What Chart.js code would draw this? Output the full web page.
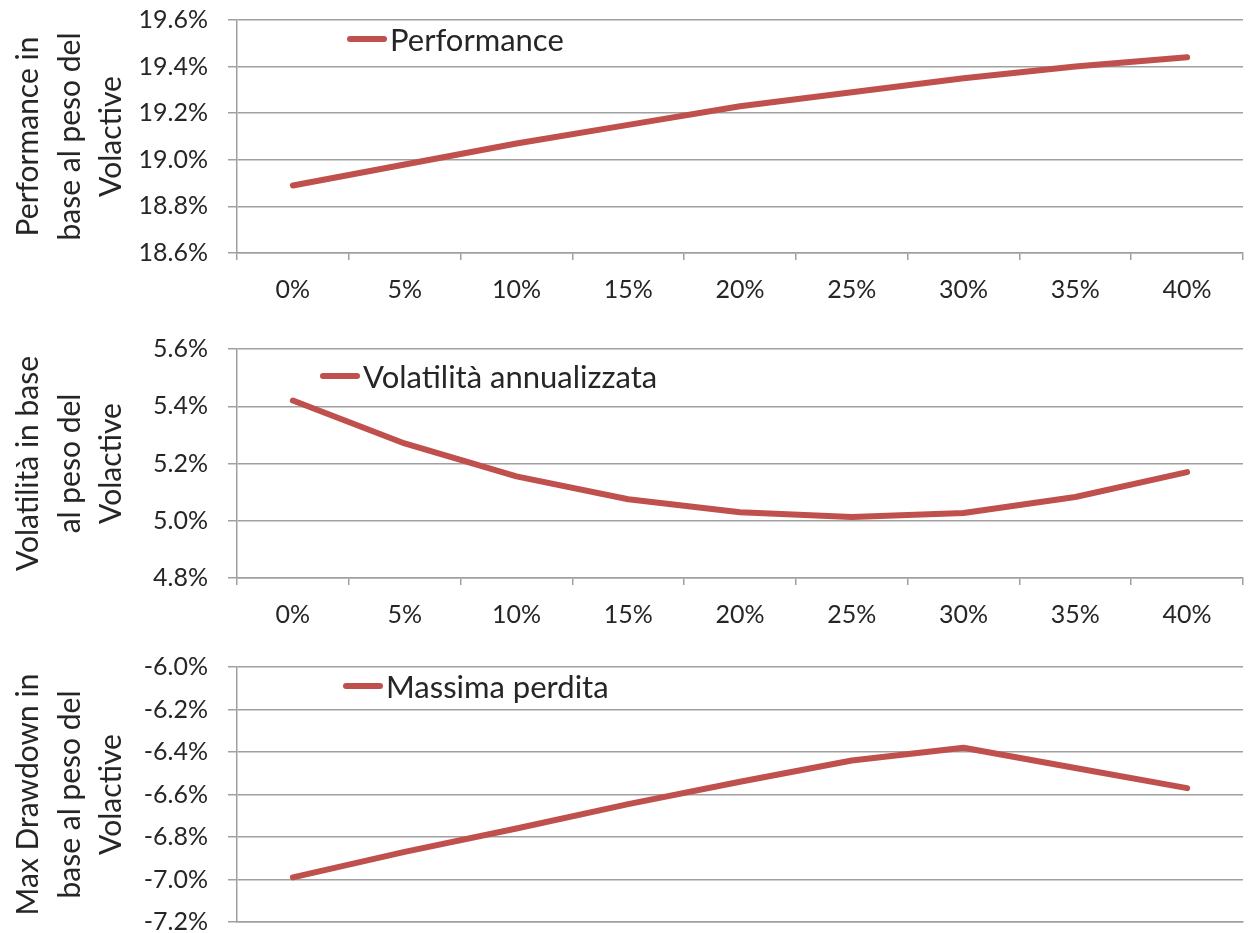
<!DOCTYPE html>
<html>
<head>
<meta charset="utf-8">
<script src="https://cdn.jsdelivr.net/npm/chart.js@4.4.1/dist/chart.umd.min.js"></script>
<style>
  html, body { margin: 0; padding: 0; background: #fff; }
  body { width: 1253px; height: 933px; position: relative; overflow: hidden; font-family: Lato, sans-serif; }
  .box { position: absolute; left: 0; width: 1253px; }
  .legend { position: absolute; display: flex; align-items: center; font-size: 31px; line-height: 36px; color: #262626; }
  .legend i { display: inline-block; width: 40px; height: 6px; border-radius: 3px; background: #c0504d; margin-right: 3px; }
</style>
</head>
<body>
<div class="box" style="top:-15px;height:327px"><canvas id="perfChart"></canvas></div>
<div class="box" style="top:314px;height:323px"><canvas id="volChart"></canvas></div>
<div class="box" style="top:632px;height:325px"><canvas id="ddChart"></canvas></div>
<div class="legend" id="leg1" style="left:347px;top:21px"></div>
<div class="legend" id="leg2" style="left:320px;top:358px"></div>
<div class="legend" id="leg3" style="left:343px;top:668px"></div>
<script>
// -----------------------------
// DATA
// -----------------------------
const weights = ['0%', '5%', '10%', '15%', '20%', '25%', '30%', '35%', '40%'];

const performance = [18.89, 18.98, 19.07, 19.15, 19.23, 19.29, 19.35, 19.40, 19.44];
const volatility = [5.42, 5.27, 5.155, 5.075, 5.03, 5.013, 5.027, 5.083, 5.17];
const drawdown = [-6.99, -6.87, -6.76, -6.645, -6.54, -6.44, -6.38, -6.475, -6.57];

const seriesNames = ['Performance', 'Volatilità annualizzata', 'Massima perdita'];
const axisTitles = [
    ['Performance in', 'base al peso del', 'Volactive'],
    ['Volatilità in base', 'al peso del', 'Volactive'],
    ['Max Drawdown in', 'base al peso del', 'Volactive']
];

const RED = '#c0504d';
const GRID = '#a0a0a0';
const TEXT = '#262626';


// -----------------------------
// BUILD ONE CHART
// -----------------------------
function makeChart(id, values, name, title, min, max, showLabels) {
    const ctx = document.getElementById(id).getContext('2d');
    return new Chart(ctx, {
        type: 'line',
        data: {
            labels: weights,
            datasets: [{
                label: name,
                data: values,
                borderColor: RED,
                borderWidth: 6,
                borderCapStyle: 'round',
                borderJoinStyle: 'round',
                pointRadius: 0,
                tension: 0
            }]
        },
        options: {
            animation: false,
            responsive: true,
            maintainAspectRatio: false,
            layout: { padding: { top: 7, right: 10, left: 0, bottom: 0 } },
            plugins: {
                legend: { display: false },
                tooltip: { enabled: false }
            },
            scales: {
                x: {
                    offset: true,
                    grid: {
                        offset: true,
                        drawOnChartArea: false,
                        drawTicks: showLabels,
                        tickLength: 7,
                        color: GRID,
                        lineWidth: 1.5
                    },
                    border: { color: GRID, width: 1.5 },
                    ticks: {
                        display: showLabels,
                        padding: 15,
                        color: TEXT,
                        font: { family: 'Lato', size: 25 }
                    },
                    afterFit: s => { s.height = showLabels ? 59 : 11; }
                },
                y: {
                    min: min,
                    max: max,
                    ticks: {
                        stepSize: 0.2,
                        padding: 20,
                        color: TEXT,
                        font: { family: 'Lato', size: 25 },
                        callback: v => v.toFixed(1) + '%'
                    },
                    grid: { color: GRID, lineWidth: 1.5, tickLength: 9 },
                    border: { color: GRID, width: 1.5 },
                    title: {
                        display: true,
                        text: title,
                        color: TEXT,
                        padding: { top: 8, bottom: 0 },
                        font: { family: 'Lato', size: 30, lineHeight: 1.38 }
                    },
                    afterFit: s => { s.width = 237; }
                }
            }
        }
    });
}

makeChart('perfChart', performance, seriesNames[0], axisTitles[0], 18.6, 19.6, true);
makeChart('volChart', volatility, seriesNames[1], axisTitles[1], 4.8, 5.6, true);
makeChart('ddChart', drawdown, seriesNames[2], axisTitles[2], -7.2, -6.0, false);

// legends (inside plot area, like the original)
['leg1', 'leg2', 'leg3'].forEach((id, i) => {
    document.getElementById(id).innerHTML = '<i></i>' + seriesNames[i];
});
</script>
</body>
</html>
